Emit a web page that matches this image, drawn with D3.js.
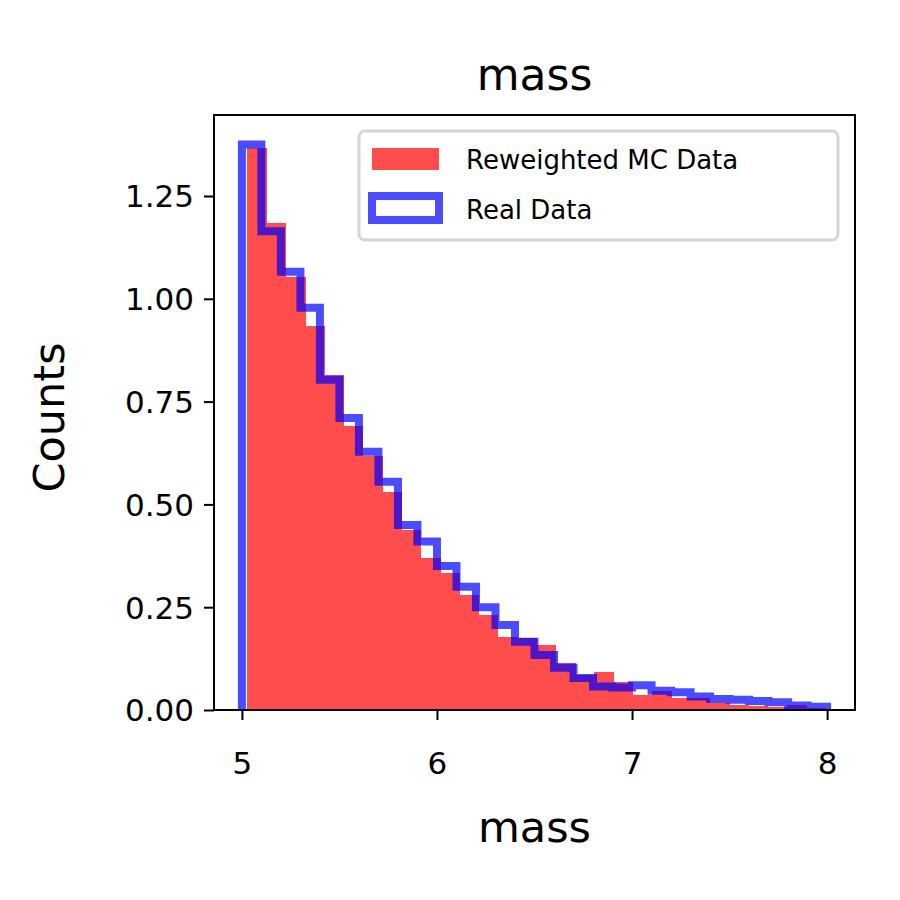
<!DOCTYPE html><html><head><script src="https://cdn.jsdelivr.net/npm/d3@7"></script>
<style>body{margin:0;background:#fff}text{font-family:"DejaVu Sans",sans-serif}</style></head><body>
<svg id="c" width="900" height="900"></svg>
<script>
const redValues=[1.367,1.185,1.054,0.934,0.815,0.69,0.618,0.531,0.438,0.37,0.334,0.28,0.231,0.178,0.175,0.158,0.114,0.085,0.092,0.069,0.036,0.046,0.03,0.028,0.018,0.012,0.01,0.007,0.012,0.005];
const blueValues=[1.375,1.164,1.066,0.978,0.803,0.71,0.628,0.555,0.45,0.41,0.35,0.30,0.25,0.207,0.166,0.134,0.103,0.078,0.057,0.055,0.06,0.047,0.043,0.033,0.027,0.025,0.022,0.019,0.011,0.008];
const redRange=[5.025,7.99], blueRange=[5.0,8.0];
const xTicks=[5,6,7,8], yTicks=[0,0.25,0.5,0.75,1.0,1.25];
const svg=d3.select("#c");
const L=214,R=855,T=115,B=710;
const x=d3.scaleLinear().domain([4.857,8.143]).range([L,R]);
const y=d3.scaleLinear().domain([0,1.447]).range([B,T]);
const rw=(redRange[1]-redRange[0])/redValues.length;
svg.append("g").attr("shape-rendering","crispEdges").selectAll("rect").data(redValues).join("rect")
 .attr("x",(d,i)=>x(redRange[0]+i*rw)).attr("width",(d,i)=>x(redRange[0]+(i+1)*rw)-x(redRange[0]+i*rw)+1)
 .attr("y",d=>y(d)).attr("height",d=>B-y(d)).attr("fill","#ff4c4c");
const bw=(blueRange[1]-blueRange[0])/blueValues.length;
let pts=[[blueRange[0],0]];
blueValues.forEach((v,i)=>{pts.push([blueRange[0]+i*bw,v]);pts.push([blueRange[0]+(i+1)*bw,v]);});
pts.push([blueRange[1],0]);
svg.append("path").attr("d",d3.line().x(p=>x(p[0])).y(p=>y(p[1]))(pts))
 .attr("fill","none").attr("stroke","rgba(0,0,255,0.7)").attr("stroke-width",8).attr("stroke-linejoin","miter");
svg.append("rect").attr("x",L).attr("y",T).attr("width",R-L).attr("height",B-T).attr("fill","none").attr("stroke","#000").attr("stroke-width",2);
const xa=svg.append("g").attr("transform",`translate(0,${B})`).call(d3.axisBottom(x).tickValues(xTicks).tickFormat(d3.format("d")).tickSize(10).tickSizeOuter(0));
const ya=svg.append("g").attr("transform",`translate(${L},0)`).call(d3.axisLeft(y).tickValues(yTicks).tickFormat(d3.format(".2f")).tickSize(10).tickSizeOuter(0));
[xa,ya].forEach(a=>{a.select(".domain").remove();a.selectAll("line").attr("stroke-width",2);a.selectAll("text").attr("font-size",31).attr("font-family","DejaVu Sans").attr("fill","#000");});
xa.selectAll("text").attr("y",0).attr("dy",0).attr("transform","translate(0,64)");
ya.selectAll("text").attr("x",-20).attr("dy","0.35em");
svg.append("text").attr("x",(L+R)/2).attr("y",90).attr("text-anchor","middle").attr("font-size",44).text("mass");
svg.append("text").attr("x",(L+R)/2).attr("y",842).attr("text-anchor","middle").attr("font-size",43).text("mass");
svg.append("text").attr("transform",`translate(64,${(T+B)/2 + 5}) rotate(-90)`).attr("text-anchor","middle").attr("font-size",43).text("Counts");
const lg=svg.append("g");
lg.append("rect").attr("x",359).attr("y",131).attr("width",479).attr("height",109).attr("rx",6).attr("fill","#fff").attr("fill-opacity",0.8).attr("stroke","#d5d5d5").attr("stroke-width",3);
lg.append("rect").attr("x",372).attr("y",148).attr("width",67).attr("height",22).attr("fill","#ff4c4c");
lg.append("rect").attr("x",372).attr("y",196).attr("width",67).attr("height",24).attr("fill","none").attr("stroke","rgba(0,0,255,0.7)").attr("stroke-width",8);
lg.append("text").attr("x",466).attr("y",169).attr("font-size",26).text("Reweighted MC Data");
lg.append("text").attr("x",466).attr("y",219).attr("font-size",26).text("Real Data");
</script></body></html>
